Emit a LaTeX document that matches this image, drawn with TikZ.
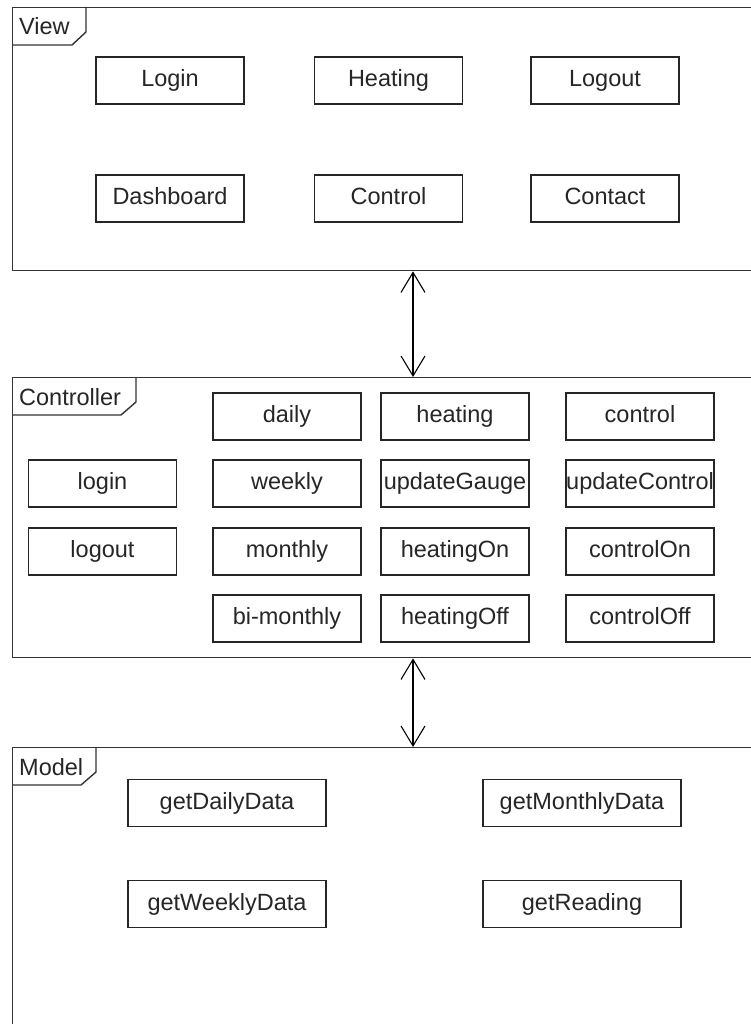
\documentclass[tikz,border=0pt]{standalone}
\usepackage{fontspec}
\setmainfont{Liberation Sans}
\usetikzlibrary{arrows.meta}
\begin{document}
\begin{tikzpicture}[x=1pt,y=-1pt,
  every node/.style={font=\fontsize{23.5}{27}\selectfont, text=black!85},
  frameline/.style={draw=black!80, line width=1.4pt},
  pkg/.style={frameline, anchor=north west, inner sep=0pt},
  op/.style={draw=black!85, line width=1.4pt, minimum width=148pt, minimum height=47pt,
    inner sep=0pt, text height=17pt, text depth=5pt},
  tablabel/.style={anchor=base west, inner sep=0pt},
  link/.style={draw=black, line width=1.1pt,
    {Straight Barb[length=20pt,width=24pt,line width=1.1pt]}-{Straight Barb[length=20pt,width=24pt,line width=1.1pt]}}
]
\useasboundingbox (0,0) rectangle (751,1024);
\clip (0,0) rectangle (751,1024);
\fill[white] (0,0) rectangle (751,1024);

% package frames (running past the right / bottom edge)
\node[pkg, minimum width=800pt, minimum height=263pt] (view) at (12,7) {};
\node[pkg, minimum width=800pt, minimum height=280pt] (ctrl) at (12,377) {};
\node[pkg, minimum width=800pt, minimum height=400pt] (model) at (12,747) {};

% name tabs
\draw[frameline] (12,45) -- (72,45) -- (86,32) -- (86,7);
\node[tablabel] (viewlbl) at (19,35) {View};
\draw[frameline] (12,415) -- (121,415) -- (136,402) -- (136,377);
\node[tablabel] (ctrllbl) at (19,405) {Controller};
\draw[frameline] (12,785) -- (81,785) -- (96,772) -- (96,747);
\node[tablabel] (modellbl) at (19,775) {Model};

% View
\node[op] (vlogin) at (170,80.5) {Login};
\node[op] (vheating) at (388.5,80.5) {Heating};
\node[op] (vlogout) at (605,80.5) {Logout};
\node[op] (vdash) at (170,198.5) {Dashboard};
\node[op] (vcontrol) at (388.5,198.5) {Control};
\node[op] (vcontact) at (605,198.5) {Contact};

% Controller
\node[op] (clogin) at (102.5,483.5) {login};
\node[op] (clogout) at (102.5,551.5) {logout};
\node[op] (cdaily) at (287,416.5) {daily};
\node[op] (cweekly) at (287,483.5) {weekly};
\node[op] (cmonthly) at (287,551.5) {monthly};
\node[op] (cbimonthly) at (287,618.5) {bi-monthly};
\node[op] (cheating) at (455,416.5) {heating};
\node[op] (cgauge) at (455,483.5) {updateGauge};
\node[op] (con) at (455,551.5) {heatingOn};
\node[op] (coff) at (455,618.5) {heatingOff};
\node[op] (ccontrol) at (640,416.5) {control};
\node[op] (cupd) at (640,483.5) {updateControl};
\node[op] (cctlon) at (640,551.5) {controlOn};
\node[op] (cctloff) at (640,618.5) {controlOff};

% Model
\node[op, minimum width=198pt] (mdaily) at (227,803) {getDailyData};
\node[op, minimum width=198pt] (mmonthly) at (582,803) {getMonthlyData};
\node[op, minimum width=198pt] (mweekly) at (227,904) {getWeeklyData};
\node[op, minimum width=198pt] (mreading) at (582,904) {getReading};

% links between the layers
\coordinate (lx) at (413,0);
\draw[link] (view.south -| lx) -- (ctrl.north -| lx);
\draw[link] (ctrl.south -| lx) -- (model.north -| lx);
\end{tikzpicture}
\end{document}
